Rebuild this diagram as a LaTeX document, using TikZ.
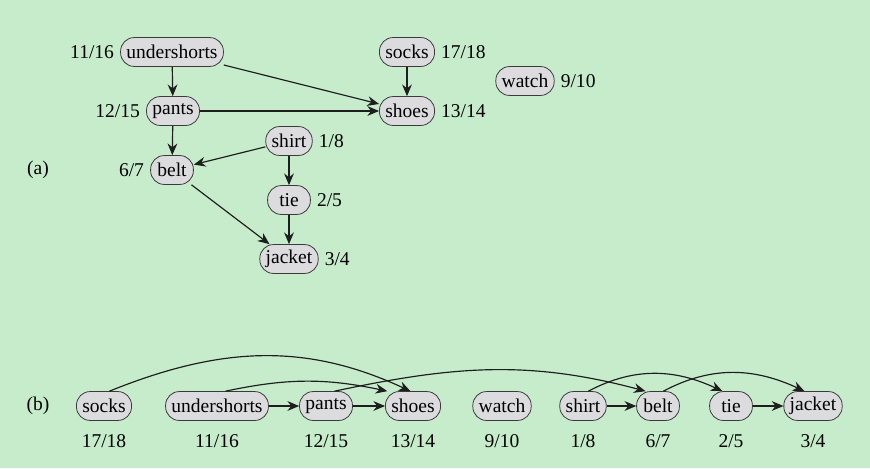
\documentclass[tikz,border=0pt]{standalone}
\usepackage{fontspec}
\setmainfont{Liberation Serif}
\usepackage{tikz}
\usetikzlibrary{arrows.meta, positioning}
\definecolor{bggreen}{HTML}{C6ECCB}
\definecolor{pillgray}{HTML}{DCDCDE}
\definecolor{pilledge}{HTML}{3A3A3A}
\definecolor{inkdark}{HTML}{1E1E1E}
\tikzset{
  vbox/.style={rectangle, rounded corners=7pt, draw=pilledge, fill=pillgray,
               thin, minimum height=0.52cm, minimum width=0.77cm,
               inner xsep=3pt, inner ysep=1pt,
               font=\fontsize{10}{12}\selectfont},
  lbl/.style={font=\fontsize{10}{12}\selectfont, inner sep=1pt},
  arr/.style={-{Stealth[length=6pt, width=5pt]}, semithick, draw=inkdark},
}

\begin{document}
\begin{tikzpicture}[x=0.018cm, y=-0.018cm]
  \fill[bggreen] (0,0) rectangle (870,468);
  \useasboundingbox (0,0) rectangle (870,468);

  % (a) the dag
  \node[lbl] (tag_a) at (38,170) {(a)};
  \node[vbox] (a_under) at (172,52) {undershorts};
  \node[vbox] (a_pants) at (173,111) {pants};
  \node[vbox] (a_belt) at (172,170) {belt};
  \node[vbox] (a_shirt) at (289,141) {shirt};
  \node[vbox] (a_tie) at (289,200) {tie};
  \node[vbox] (a_jacket) at (289,259) {jacket};
  \node[vbox] (a_socks) at (407,52) {socks};
  \node[vbox] (a_shoes) at (407,111) {shoes};
  \node[vbox] (a_watch) at (525,81) {watch};

  \node[lbl, left=2pt of a_under] (t_under) {11/16};
  \node[lbl, left=2pt of a_pants] (t_pants) {12/15};
  \node[lbl, left=2pt of a_belt] (t_belt) {6/7};
  \node[lbl, right=2pt of a_shirt] (t_shirt) {1/8};
  \node[lbl, right=2pt of a_tie] (t_tie) {2/5};
  \node[lbl, right=2pt of a_jacket] (t_jacket) {3/4};
  \node[lbl, right=2pt of a_socks] (t_socks) {17/18};
  \node[lbl, right=2pt of a_shoes] (t_shoes) {13/14};
  \node[lbl, right=2pt of a_watch] (t_watch) {9/10};

  \draw[arr] (a_under) -- (a_pants);
  \draw[arr] (a_under) -- (a_shoes);
  \draw[arr] (a_pants) -- (a_shoes);
  \draw[arr] (a_pants) -- (a_belt);
  \draw[arr] (a_shirt) -- (a_belt);
  \draw[arr] (a_shirt) -- (a_tie);
  \draw[arr] (a_belt) -- (a_jacket);
  \draw[arr] (a_tie) -- (a_jacket);
  \draw[arr] (a_socks) -- (a_shoes);

  % (b) sorted order
  \node[lbl] (tag_b) at (38,406) {(b)};
  \node[vbox] (b_socks) at (104,406) {socks};
  \node[vbox] (b_under) at (217,406) {undershorts};
  \node[vbox] (b_pants) at (326,406) {pants};
  \node[vbox] (b_shoes) at (413,406) {shoes};
  \node[vbox] (b_watch) at (502,406) {watch};
  \node[vbox] (b_shirt) at (583,406) {shirt};
  \node[vbox] (b_belt) at (658,406) {belt};
  \node[vbox] (b_tie) at (731,406) {tie};
  \node[vbox] (b_jacket) at (813,406) {jacket};

  \node[lbl, below=6pt of b_socks] (s_socks) {17/18};
  \node[lbl, below=6pt of b_under] (s_under) {11/16};
  \node[lbl, below=6pt of b_pants] (s_pants) {12/15};
  \node[lbl, below=6pt of b_shoes] (s_shoes) {13/14};
  \node[lbl, below=6pt of b_watch] (s_watch) {9/10};
  \node[lbl, below=6pt of b_shirt] (s_shirt) {1/8};
  \node[lbl, below=6pt of b_belt] (s_belt) {6/7};
  \node[lbl, below=6pt of b_tie] (s_tie) {2/5};
  \node[lbl, below=6pt of b_jacket] (s_jacket) {3/4};

  \draw[arr] (b_under) -- (b_pants);
  \draw[arr] (b_pants) -- (b_shoes);
  \draw[arr] (b_shirt) -- (b_belt);
  \draw[arr] (b_tie) -- (b_jacket);
  \draw[arr] (b_socks.70) to[out=22, in=155] (b_shoes.100);
  \draw[arr] (b_under.60) to[out=12, in=168] (b_shoes.150);
  \draw[arr] (b_pants.60) to[out=12, in=165] (b_belt.130);
  \draw[arr] (b_shirt.70) to[out=28, in=155] (b_tie.120);
  \draw[arr] (b_belt.70) to[out=28, in=155] (b_jacket.120);
\end{tikzpicture}
\end{document}
